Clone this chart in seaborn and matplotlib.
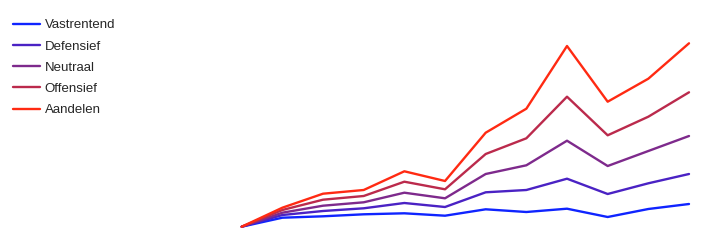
import matplotlib
matplotlib.use("Agg")
import matplotlib.pyplot as plt
import seaborn as sns
import pandas as pd

periods = list(range(12))
vastrentend = [0, 9, 10.4, 12.4, 13.4, 11, 17.4, 14.7, 18, 9.7, 17.7, 22.7]
defensief = [0, 11.7, 15.7, 18.4, 23.7, 19.7, 34.4, 36.7, 48, 32.7, 43.4, 52.7]
neutraal = [0, 14, 21, 24.4, 34, 28.4, 52.7, 61.4, 86, 60.7, 75.7, 90.7]
offensief = [0, 16.7, 27, 30.7, 45, 37.4, 72.7, 88.4, 130, 91.4, 110, 134.4]
aandelen = [0, 19, 33, 36.7, 55.4, 45.7, 94, 118, 180.7, 125, 148, 183.4]

names = ["Vastrentend", "Defensief", "Neutraal", "Offensief", "Aandelen"]
series = [vastrentend, defensief, neutraal, offensief, aandelen]
colors = ["#0f24ff", "#4a22c4", "#7e2a8c", "#bb2a4c", "#ff2a12"]

rows = []
for n, s in zip(names, series):
    for p, v in zip(periods, s):
        rows.append({"periode": p, "waarde": v, "profiel": n})
df = pd.DataFrame(rows)

sns.set_style("white")
plt.rcParams["font.family"] = ["Liberation Sans", "DejaVu Sans"]

fig = plt.figure(figsize=(7.15, 2.45), dpi=100)
ax = fig.add_axes([241.7 / 715, 18.3 / 245, (689 - 241.7) / 715, (226.7 - 43.3) / 245])
sns.lineplot(data=df, x="periode", y="waarde", hue="profiel", hue_order=names,
             palette=colors, linewidth=1.7, ax=ax, legend=True)
for line in ax.lines:
    line.set_clip_on(False)
ax.set_xlim(0, 11)
ax.set_ylim(0, max(aandelen))
ax.set_axis_off()

handles, labels = ax.get_legend_handles_labels()
ax.get_legend().remove()
fig.legend(handles, labels, loc="upper left", bbox_to_anchor=(0.0, 1.0 - 6 / 245),
           bbox_transform=fig.transFigure, frameon=False, fontsize=9.5,
           handlelength=2.0, handletextpad=0.38, labelspacing=0.68,
           borderaxespad=0.0, borderpad=1.0)

fig.savefig("out.png", dpi=100)
